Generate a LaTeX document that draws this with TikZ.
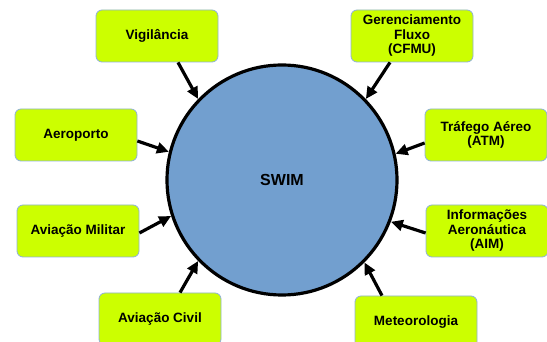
\documentclass[tikz,border=0pt]{standalone}
\usepackage{fontspec}
\setmainfont{Liberation Sans}
\usetikzlibrary{arrows.meta}
\definecolor{boxfill}{HTML}{CCFF00}
\definecolor{boxline}{HTML}{8FB0D8}
\definecolor{swimfill}{HTML}{729FCF}
\begin{document}
\begin{tikzpicture}[x=1pt, y=-1pt,
    source/.style={draw=boxline, line width=0.8pt, fill=boxfill, rounded corners=6pt,
        minimum width=122pt, minimum height=52pt, align=center, inner sep=2pt,
        font=\bfseries\fontsize{13.5}{14.5}\selectfont},
    hub/.style={circle, draw=black, line width=3.2pt, fill=swimfill, minimum size=230pt,
        font=\bfseries\fontsize{16}{18}\selectfont},
    feed/.style={-{Triangle[length=12pt,width=11pt]}, line width=3.2pt}]
    \useasboundingbox (0,0) rectangle (547,342);

    % centre
    \node[hub] (swim) at (282,180) {SWIM};

    % sources, left column
    \node[source] (vig)   at (157,36)  {Vigil\^ancia};
    \node[source] (aero)  at (76,135)  {Aeroporto};
    \node[source] (mil)   at (78,231)  {Avia\c{c}\~ao Militar};
    \node[source] (civil) at (160,319) {Avia\c{c}\~ao Civil};

    % sources, right column
    \node[source] (cfmu)  at (412,36)  {Gerenciamento\\Fluxo\\(CFMU)};
    \node[source] (atm)   at (486,135) {Tr\'afego A\'ereo\\(ATM)};
    \node[source] (aim)   at (487,231) {Informa\c{c}\~oes\\Aeron\'autica\\(AIM)};
    \node[source] (met)   at (416,322) {Meteorologia};

    % feeds into the hub
    \draw[feed] ([xshift=21pt]vig.south)    -- (swim.136);
    \draw[feed] ([yshift=-6pt]aero.east)    -- (swim.166);
    \draw[feed] ([yshift=-2pt]mil.east)     -- (swim.198);
    \draw[feed] ([xshift=20pt]civil.north)  -- (swim.224);
    \draw[feed] ([xshift=-22pt]cfmu.south)  -- (swim.44);
    \draw[feed] ([yshift=-8pt]atm.west)     -- (swim.13);
    \draw[feed] ([yshift=-2pt]aim.west)     -- (swim.-21);
    \draw[feed] ([xshift=-34pt]met.north)   -- (swim.-45);
\end{tikzpicture}
\end{document}
